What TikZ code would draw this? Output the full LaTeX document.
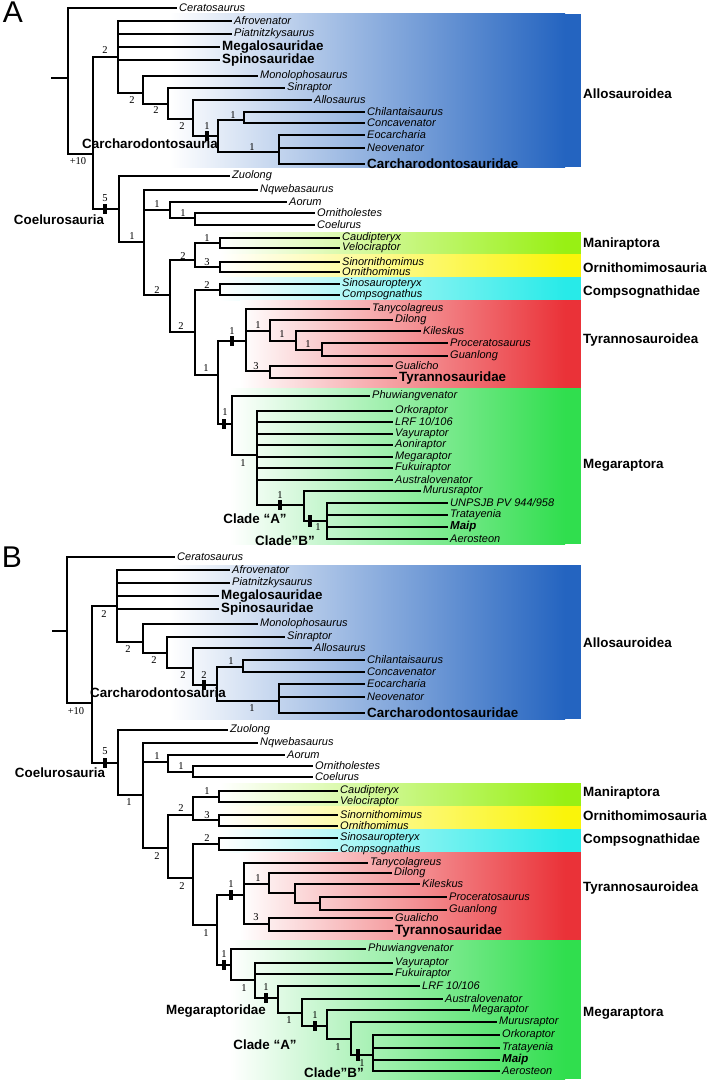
\documentclass[tikz,border=0pt]{standalone}
\usepackage{fontspec}
\setmainfont{Liberation Sans}
\newfontfamily\supfont{Liberation Serif}
\usepackage{xcolor}
\definecolor{alloblue}{RGB}{36,100,192}
\definecolor{manigreen}{RGB}{152,240,20}
\definecolor{ornyellow}{RGB}{250,244,10}
\definecolor{compcyan}{RGB}{40,234,232}
\definecolor{tyrred}{RGB}{234,50,56}
\definecolor{megagreen}{RGB}{48,222,78}

\begin{document}
\begin{tikzpicture}[x=1pt,y=-1pt,
	br/.style={line width=1.7pt},
	tip/.style={anchor=west,inner xsep=2pt,inner ysep=1pt,font=\fontsize{11}{12}\selectfont\itshape},
	grp/.style={anchor=west,inner xsep=2pt,inner ysep=1pt,font=\fontsize{13.4}{14}\selectfont\bfseries},
	clade/.style={inner sep=0pt,font=\fontsize{13.4}{14}\selectfont\bfseries},
	supp/.style={inner sep=0pt,font=\fontsize{10.5}{11}\selectfont\supfont},
	apo/.style={fill=black,inner sep=0pt,minimum width=3.5pt,minimum height=10pt},
	apobig/.style={apo,minimum width=4.5pt,minimum height=12pt}]
	\useasboundingbox (0,0) rectangle (708,1081);

	% colour bands, panel A
	\shade[left color=white,right color=alloblue] (170,14) rectangle (565,167);
	\fill[alloblue] (565,14) rectangle (581,167);
	\shade[left color=white,right color=manigreen] (220,232) rectangle (565,254);
	\fill[manigreen] (565,232) rectangle (581,254);
	\shade[left color=white,right color=ornyellow] (220,254) rectangle (565,277);
	\fill[ornyellow] (565,254) rectangle (581,277);
	\shade[left color=white,right color=compcyan] (220,277) rectangle (565,300);
	\fill[compcyan] (565,277) rectangle (581,300);
	\shade[left color=white,right color=tyrred] (240,300) rectangle (565,388);
	\fill[tyrred] (565,300) rectangle (581,388);
	\shade[left color=white,right color=megagreen] (230,388) rectangle (565,544);
	\fill[megagreen] (565,388) rectangle (581,544);

	% colour bands, panel B
	\shade[left color=white,right color=alloblue] (170,565) rectangle (565,719);
	\fill[alloblue] (565,565) rectangle (581,719);
	\shade[left color=white,right color=manigreen] (220,783) rectangle (565,806);
	\fill[manigreen] (565,783) rectangle (581,806);
	\shade[left color=white,right color=ornyellow] (220,806) rectangle (565,829);
	\fill[ornyellow] (565,806) rectangle (581,829);
	\shade[left color=white,right color=compcyan] (220,829) rectangle (565,852);
	\fill[compcyan] (565,829) rectangle (581,852);
	\shade[left color=white,right color=tyrred] (240,852) rectangle (565,940);
	\fill[tyrred] (565,852) rectangle (581,940);
	\shade[left color=white,right color=megagreen] (230,940) rectangle (565,1079);
	\fill[megagreen] (565,940) rectangle (581,1079);

	% (A) strict consensus
	\node[font=\fontsize{30}{30}\selectfont,inner sep=0pt] (aLetter) at (13,12) {A};
	\foreach \n/\x/\y in {aS/51/78, aR/68/78, aT/93/154, aAl/118/57, aN2/143/93, aN3/168/104,
		aN4/193/119, aCa/218/136, aN5/244/120, aN6/279/152, aCo/119/209, aN7/144/242,
		aN8/170/210, aN10/195/218, aN9/170/295, aN11/195/260, aN13/220/243, aN14/220/267,
		aN12/195/332, aN15/220/290, aN16/218/375, aTy/246/341, aN17/270/331, aN19/296/341,
		aN20/322/350, aN18/270/371, aMe/232/424, aN21/257/455, aCA/304/505, aCB/327/521}
		\coordinate (\n) at (\x,\y);
	\foreach \n/\x/\y/\t in {aCer/177/8/Ceratosaurus, aAfr/232/21/Afrovenator,
		aPia/232/34/Piatnitzkysaurus, aMon/258/76/Monolophosaurus, aSin/285/88/Sinraptor,
		aAll/312/100/Allosaurus, aChi/365/112/Chilantaisaurus, aCon/365/123/Concavenator,
		aEoc/365/135/Eocarcharia, aNeo/365/148/Neovenator, aZuo/230/176/Zuolong,
		aNqw/258/190/Nqwebasaurus, aAor/287/202/Aorum, aOrn/315/213/Ornitholestes,
		aCoe/315/225/Coelurus, aCau/340/238/Caudipteryx, aVel/340/248/Velociraptor,
		aSno/340/262/Sinornithomimus, aOmi/340/272/Ornithomimus, aSsp/340/284/Sinosauropteryx,
		aCom/340/295/Compsognathus, aTan/370/309/Tanycolagreus, aDil/393/320/Dilong,
		aKil/421/331/Kileskus, aPro/448/343/Proceratosaurus, aGua/448/356/Guanlong,
		aGul/393/366/Gualicho, aPhu/370/396/Phuwiangvenator, aOrk/393/411/Orkoraptor,
		aVay/393/434/Vayuraptor, aAon/393/445/Aoniraptor, aMeg/393/457/Megaraptor,
		aFuk/393/468/Fukuiraptor, aAus/393/480/Australovenator, aMur/421/491/Murusraptor,
		aTra/448/515/Tratayenia, aAer/448/539/Aerosteon}
		\node[tip] (\n) at (\x,\y) {\t};
	\node[tip] (aLRF) at (393,422) {LRF 10/106};
	\node[tip] (aUNP) at (448,503) {UNPSJB PV 944/958};
	\node[tip,font=\fontsize{11.5}{12}\selectfont\bfseries\itshape] (aMai) at (448,527) {Maip};
	\foreach \n/\x/\y/\t in {aMgl/220/47/Megalosauridae, aSpi/220/60/Spinosauridae,
		aCrd/365/164/Carcharodontosauridae, aTyr/397/378/Tyrannosauridae}
		\node[grp] (\n) at (\x,\y) {\t};

	\draw[br] (aS) -- (aR);
	\foreach \p/\c in {aR/aCer, aR/aT, aT/aAl, aT/aCo, aAl/aAfr, aAl/aPia, aAl/aMgl, aAl/aSpi,
		aAl/aN2, aN2/aMon, aN2/aN3, aN3/aSin, aN3/aN4, aN4/aAll, aN4/aCa, aCa/aN5, aCa/aN6,
		aN5/aChi, aN5/aCon, aN6/aEoc, aN6/aNeo, aN6/aCrd, aCo/aZuo, aCo/aN7, aN7/aNqw,
		aN7/aN8, aN7/aN9, aN8/aAor, aN8/aN10, aN10/aOrn, aN10/aCoe, aN9/aN11, aN9/aN12,
		aN11/aN13, aN11/aN14, aN13/aCau, aN13/aVel, aN14/aSno, aN14/aOmi, aN12/aN15,
		aN12/aN16, aN15/aSsp, aN15/aCom, aN16/aTy, aN16/aMe, aTy/aTan, aTy/aN17, aTy/aN18,
		aN17/aDil, aN17/aN19, aN19/aKil, aN19/aN20, aN20/aPro, aN20/aGua, aN18/aGul,
		aN18/aTyr, aMe/aPhu, aMe/aN21, aN21/aOrk, aN21/aLRF, aN21/aVay, aN21/aAon,
		aN21/aMeg, aN21/aFuk, aN21/aAus, aN21/aCA, aCA/aMur, aCA/aCB, aCB/aUNP, aCB/aTra,
		aCB/aMai, aCB/aAer}
		\draw[br] (\p) |- (\c);

	\foreach \x/\y [count=\i] in {207/136, 105/209, 232/341, 224/424, 280/505}
		\node[apo] (aBar\i) at (\x,\y) {};
	\node[apobig] (aBarB) at (310,521) {};
	\foreach \x/\y/\t [count=\i] in {105/50/2, 78/161/+10, 132/100/2, 156/110/2, 182/126/2,
		207/126/1, 233/115/1, 252/147/1, 105/198/5, 132/236/1, 157/204/1, 183/213/1,
		157/290/2, 183/256/2, 207/238/1, 207/262/3, 181/326/2, 207/285/2, 206/368/1,
		232/331/1, 258/325/1, 282/334/1, 308/344/1, 256/366/3, 225/412/1, 243/463/1,
		280/495/1, 318/527/1}
		\node[supp] (aSup\i) at (\x,\y) {\t};

	\node[clade] (aCarc) at (150,144) {Carcharodontosauria};
	\node[clade] (aCoel) at (59,220) {Coelurosauria};
	\node[clade] (aCladeA) at (255,519) {Clade “A”};
	\node[clade] (aCladeB) at (285,541) {Clade”B”};
	\foreach \n/\y/\t in {aGAll/94/Allosauroidea, aGMan/244/Maniraptora,
		aGOrn/268/Ornithomimosauria, aGCom/292/Compsognathidae,
		aGTyr/340/Tyrannosauroidea, aGMeg/465/Megaraptora}
		\node[clade,anchor=west] (\n) at (583,\y) {\t};

	% (B) alternative topology
	\node[font=\fontsize{30}{30}\selectfont,inner sep=0pt] (bLetter) at (12,557) {B};
	\foreach \n/\x/\y in {bS/52/631, bR/67/631, bT/92/703, bAl/117/606, bN2/143/642, bN3/167/653,
		bN4/193/668, bCa/217/685, bN5/243/667, bN6/279/701, bCo/118/763, bN7/143/795,
		bN8/168/762, bN10/193/772, bN9/168/848, bN11/193/815, bN13/219/797, bN14/219/820,
		bN12/193/878, bN15/219/844, bN16/217/925, bTy/244/895, bN17/269/884, bN19/295/893,
		bN20/320/903, bN18/269/924, bMe/231/965, bN21/255/980, bMr/278/998, bN22/302/1013,
		bCA/327/1026, bN23/351/1039, bCB/373/1055}
		\coordinate (\n) at (\x,\y);
	\foreach \n/\x/\y/\t in {bCer/175/557/Ceratosaurus, bAfr/230/570/Afrovenator,
		bPia/230/583/Piatnitzkysaurus, bMon/258/624/Monolophosaurus, bSin/285/637/Sinraptor,
		bAll/312/648/Allosaurus, bChi/365/660/Chilantaisaurus, bCon/365/672/Concavenator,
		bEoc/365/684/Eocarcharia, bNeo/365/697/Neovenator, bZuo/228/730/Zuolong,
		bNqw/258/743/Nqwebasaurus, bAor/285/755/Aorum, bOrn/313/766/Ornitholestes,
		bCoe/313/777/Coelurus, bCau/338/791/Caudipteryx, bVel/338/802/Velociraptor,
		bSno/338/815/Sinornithomimus, bOmi/338/826/Ornithomimus, bSsp/338/838/Sinosauropteryx,
		bCom/338/850/Compsognathus, bTan/368/863/Tanycolagreus, bDil/392/873/Dilong,
		bKil/420/884/Kileskus, bPro/447/897/Proceratosaurus, bGua/447/910/Guanlong,
		bGul/393/918/Gualicho, bPhu/366/949/Phuwiangvenator, bVay/393/963/Vayuraptor,
		bFuk/393/974/Fukuiraptor, bAus/443/999/Australovenator, bMeg/470/1010/Megaraptor,
		bMur/497/1022/Murusraptor, bOrk/500/1035/Orkoraptor, bTra/500/1048/Tratayenia,
		bAer/500/1071/Aerosteon}
		\node[tip] (\n) at (\x,\y) {\t};
	\node[tip] (bLRF) at (420,986) {LRF 10/106};
	\node[tip,font=\fontsize{11.5}{12}\selectfont\bfseries\itshape] (bMai) at (500,1060) {Maip};
	\foreach \n/\x/\y/\t in {bMgl/219/596/Megalosauridae, bSpi/219/609/Spinosauridae,
		bCrd/365/713/Carcharodontosauridae, bTyr/393/931/Tyrannosauridae}
		\node[grp] (\n) at (\x,\y) {\t};

	\draw[br] (bS) -- (bR);
	\foreach \p/\c in {bR/bCer, bR/bT, bT/bAl, bT/bCo, bAl/bAfr, bAl/bPia, bAl/bMgl, bAl/bSpi,
		bAl/bN2, bN2/bMon, bN2/bN3, bN3/bSin, bN3/bN4, bN4/bAll, bN4/bCa, bCa/bN5, bCa/bN6,
		bN5/bChi, bN5/bCon, bN6/bEoc, bN6/bNeo, bN6/bCrd, bCo/bZuo, bCo/bN7, bN7/bNqw,
		bN7/bN8, bN7/bN9, bN8/bAor, bN8/bN10, bN10/bOrn, bN10/bCoe, bN9/bN11, bN9/bN12,
		bN11/bN13, bN11/bN14, bN13/bCau, bN13/bVel, bN14/bSno, bN14/bOmi, bN12/bN15,
		bN12/bN16, bN15/bSsp, bN15/bCom, bN16/bTy, bN16/bMe, bTy/bTan, bTy/bN17, bTy/bN18,
		bN17/bDil, bN17/bN19, bN19/bKil, bN19/bN20, bN20/bPro, bN20/bGua, bN18/bGul,
		bN18/bTyr, bMe/bPhu, bMe/bN21, bN21/bVay, bN21/bFuk, bN21/bMr, bMr/bLRF, bMr/bN22,
		bN22/bAus, bN22/bCA, bCA/bMeg, bCA/bN23, bN23/bMur, bN23/bCB, bCB/bOrk, bCB/bTra,
		bCB/bMai, bCB/bAer}
		\draw[br] (\p) |- (\c);

	\foreach \x/\y [count=\i] in {204/685, 105/763, 231/895, 224/965, 266/998, 315/1026}
		\node[apo] (bBar\i) at (\x,\y) {};
	\node[apobig] (bBarB) at (358,1055) {};
	\foreach \x/\y/\t [count=\i] in {104/614/2, 76/711/+10, 128/649/2, 154/660/2, 183/675/2,
		204/675/2, 231/661/1, 252/708/1, 105/751/5, 129/802/1, 157/756/1, 181/766/1,
		157/856/2, 181/808/2, 207/791/1, 207/815/3, 182/886/2, 207/838/2, 206/933/1,
		231/884/1, 258/878/1, 256/917/3, 224/954/1, 244/988/1, 266/987/1, 289/1020/1,
		315/1015/1, 338/1047/1, 362/1063/1}
		\node[supp] (bSup\i) at (\x,\y) {\t};

	\node[clade] (bCarc) at (158,693) {Carcharodontosauria};
	\node[clade] (bCoel) at (60,773) {Coelurosauria};
	\node[clade] (bMegr) at (216,1011) {Megaraptoridae};
	\node[clade] (bCladeA) at (265,1045) {Clade “A”};
	\node[clade] (bCladeB) at (334,1073) {Clade”B”};
	\foreach \n/\y/\t in {bGAll/643/Allosauroidea, bGMan/793/Maniraptora,
		bGOrn/816/Ornithomimosauria, bGCom/840/Compsognathidae,
		bGTyr/888/Tyrannosauroidea, bGMeg/1013/Megaraptora}
		\node[clade,anchor=west] (\n) at (583,\y) {\t};

\end{tikzpicture}
\end{document}
